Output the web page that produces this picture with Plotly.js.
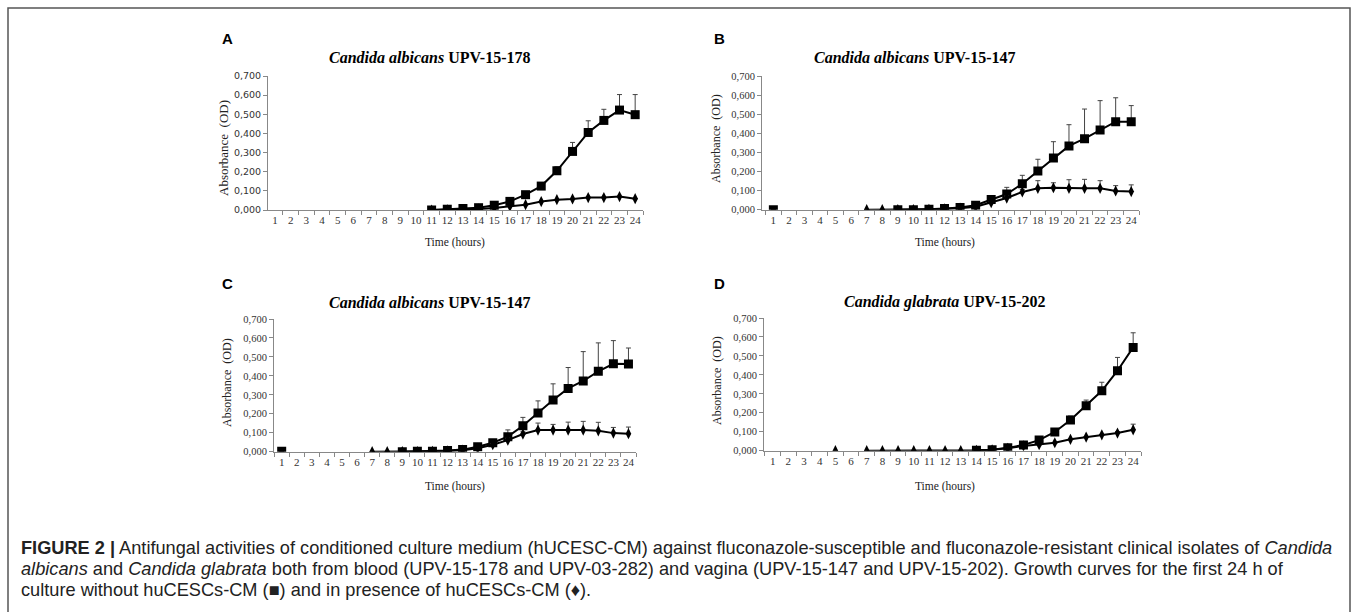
<!DOCTYPE html>
<html>
<head>
<meta charset="utf-8">
<script src="https://cdn.plot.ly/plotly-3.0.1.min.js"></script>
<style>
html,body{margin:0;padding:0;background:#fff;}
#chart{width:1358px;height:612px;}
</style>
</head>
<body>
<div id="chart"></div>
<script>
// ---- Data ----
const hours = [1,2,3,4,5,6,7,8,9,10,11,12,13,14,15,16,17,18,19,20,21,22,23,24];
const tickLabels = hours.map(String);

// Panel A: Candida albicans UPV-15-178
const A_without = [null,null,null,null,null,null,null,null,null,null,0.000,0.004,0.008,0.012,0.025,0.045,0.080,0.125,0.205,0.306,0.405,0.468,0.522,0.498];
const A_without_err = [0,0,0,0,0,0,0,0,0,0,0,0,0,0,0,0,0.004,0.006,0.021,0.047,0.061,0.058,0.081,0.105];
const A_with = [null,null,null,null,null,null,null,null,null,null,0.000,0.001,0.002,0.005,0.011,0.019,0.028,0.044,0.054,0.058,0.065,0.065,0.070,0.059];
const A_with_err = [0,0,0,0,0,0,0,0,0,0,0,0,0,0,0,0,0,0,0,0,0,0,0,0];

// Panel B: Candida albicans UPV-15-147
const B_without = [0.000,null,null,null,null,null,null,null,0.000,0.000,0.003,0.006,0.011,0.023,0.054,0.082,0.136,0.203,0.271,0.334,0.372,0.417,0.461,0.460];
const B_without_err = [0,0,0,0,0,0,0,0,0,0,0,0,0,0,0.010,0.035,0.044,0.061,0.085,0.111,0.155,0.154,0.125,0.085];
const B_with = [null,null,null,null,null,null,0.000,0.000,0.000,0.000,0.002,0.004,0.008,0.016,0.037,0.061,0.093,0.112,0.115,0.112,0.112,0.112,0.098,0.095];
const B_with_err = [0,0,0,0,0,0,0,0,0,0,0,0,0,0,0.005,0.010,0.012,0.040,0.026,0.045,0.047,0.040,0.028,0.035];

// Panel C: Candida albicans UPV-15-147
const C_without = [0.003,null,null,null,null,null,null,null,0.000,0.002,0.003,0.006,0.011,0.026,0.047,0.079,0.137,0.204,0.273,0.334,0.373,0.424,0.464,0.462];
const C_without_err = [0,0,0,0,0,0,0,0,0,0,0,0,0,0,0.012,0.036,0.044,0.064,0.085,0.110,0.155,0.150,0.122,0.085];
const C_with = [null,null,null,null,null,null,0.000,0.000,0.000,0.000,0.002,0.004,0.008,0.018,0.037,0.061,0.093,0.114,0.114,0.114,0.114,0.110,0.098,0.095];
const C_with_err = [0,0,0,0,0,0,0,0,0,0,0,0,0,0,0.005,0.010,0.012,0.037,0.030,0.042,0.046,0.045,0.030,0.035];

// Panel D: Candida glabrata UPV-15-202
const D_without = [null,null,null,null,null,null,null,null,null,null,null,null,null,0.002,0.005,0.015,0.030,0.056,0.099,0.162,0.237,0.316,0.422,0.545];
const D_without_err = [0,0,0,0,0,0,0,0,0,0,0,0,0,0,0,0,0.003,0.004,0.008,0.021,0.030,0.045,0.070,0.077];
const D_with = [null,null,null,null,0.000,null,0.000,0.000,0.000,0.000,0.000,0.000,0.000,0.002,0.005,0.013,0.025,0.032,0.042,0.060,0.072,0.084,0.093,0.110];
const D_with_err = [0,0,0,0,0,0,0,0,0,0,0,0,0,0,0,0,0,0,0,0,0,0,0.008,0.030];

const panelTitles = [
  '<b><i>Candida albicans</i> UPV-15-178</b>',
  '<b><i>Candida albicans</i> UPV-15-147</b>',
  '<b><i>Candida albicans</i> UPV-15-147</b>',
  '<b><i>Candida glabrata</i> UPV-15-202</b>'
];
const panelLetters = ['A','B','C','D'];
const yTitle = 'Absorbance  (OD)';
const xTitle = 'Time (hours)';
const yTicks = [0,0.1,0.2,0.3,0.4,0.5,0.6,0.7];

// ---- Layout helpers (pixel -> paper) ----
const W = 1358, H = 612;
const fx = p => p / W;
const fy = p => 1 - p / H;

const panels = [
  {sq:A_without, sqe:A_without_err, di:A_with, die:A_with_err,
   x0:268, x1:643, y0:76, y1:210, r0:0.55, tickFont:{family:'DejaVu Sans', size:9.5, color:'#333'},
   title:{x:430, y:57}, letter:{x:228, y:38}, yt:{x:223, y:148, size:13}, xt:{x:455, y:243}},
  {sq:B_without, sqe:B_without_err, di:B_with, die:B_with_err,
   x0:762, x1:1139, y0:76, y1:209.7, r0:0.27, tickFont:{family:'Liberation Serif', size:10.5, color:'#333'},
   title:{x:915, y:57}, letter:{x:719, y:38}, yt:{x:716, y:139, size:12}, xt:{x:945, y:243}},
  {sq:C_without, sqe:C_without_err, di:C_with, die:C_with_err,
   x0:274, x1:636, y0:319, y1:451.7, r0:0.49, tickFont:{family:'Liberation Serif', size:10.5, color:'#333'},
   title:{x:430, y:302}, letter:{x:228, y:283}, yt:{x:227, y:382, size:12}, xt:{x:455, y:486}},
  {sq:D_without, sqe:D_without_err, di:D_with, die:D_with_err,
   x0:764, x1:1141, y0:318, y1:450.7, r0:0.445, tickFont:{family:'Liberation Serif', size:10.5, color:'#333'},
   title:{x:945, y:302}, letter:{x:719, y:283}, yt:{x:717, y:381, size:12}, xt:{x:945, y:486}}
];

const data = [];
const layout = {
  width: W, height: H,
  margin:{l:0,r:0,t:0,b:0},
  paper_bgcolor:'#fff', plot_bgcolor:'rgba(0,0,0,0)',
  showlegend:false,
  separators:',.',
  annotations:[],
  shapes:[{type:'rect', xref:'paper', yref:'paper', x0:fx(8), x1:fx(1350), y0:fy(640), y1:fy(8),
           line:{color:'#555', width:1.5}, fillcolor:'rgba(0,0,0,0)'}]
};

panels.forEach((p, i) => {
  const n = i === 0 ? '' : String(i + 1);
  const xa = 'x' + n, ya = 'y' + n;
  data.push({
    x: hours, y: p.sq, xaxis: xa, yaxis: ya, type:'scatter', mode:'lines+markers',
    name:'without huCESCs-CM', connectgaps:false,
    line:{color:'#000', width:2},
    marker:{symbol:'square', size:9, color:'#000'},
    error_y:{type:'data', array:p.sqe, arrayminus:p.sqe.map(()=>0), symmetric:false,
             color:'#444', thickness:1, width:2.5}
  });
  data.push({
    x: hours, y: p.di, xaxis: xa, yaxis: ya, type:'scatter', mode:'lines+markers',
    name:'with huCESCs-CM', connectgaps:false,
    line:{color:'#000', width:2},
    marker:{symbol:'diamond-tall', size:8, color:'#000'},
    error_y:{type:'data', array:p.die, arrayminus:p.die.map(()=>0), symmetric:false,
             color:'#444', thickness:1, width:2.5}
  });
  layout['xaxis' + n] = {
    domain:[fx(p.x0), fx(p.x1)], range:[p.r0, 24.5], anchor: ya,
    tickmode:'array', tickvals:hours, ticktext:tickLabels, ticks:'',
    tickfont:{family:'Liberation Serif', size:11, color:'#333'},
    showline:true, linecolor:'#888', linewidth:1, showgrid:false, zeroline:false,
    minor:{tickmode:'linear', tick0:0.5, dtick:1, ticks:'outside', ticklen:4, tickcolor:'#888', showgrid:false},
    fixedrange:true
  };
  layout['yaxis' + n] = {
    domain:[fy(p.y1), fy(p.y0)], range:[0, 0.7], anchor: xa,
    tickmode:'array', tickvals:yTicks, tickformat:'.3f',
    ticks:'outside', ticklen:4, tickcolor:'#888',
    tickfont:p.tickFont,
    showline:true, linecolor:'#888', linewidth:1, showgrid:false, zeroline:false,
    fixedrange:true
  };
  layout.annotations.push(
    {text:panelTitles[i], xref:'paper', yref:'paper', x:fx(p.title.x), y:fy(p.title.y),
     xanchor:'center', yanchor:'middle', showarrow:false,
     font:{family:'Liberation Serif', size:16, color:'#000'}},
    {text:'<b>' + panelLetters[i] + '</b>', xref:'paper', yref:'paper', x:fx(p.letter.x), y:fy(p.letter.y),
     xanchor:'center', yanchor:'middle', showarrow:false,
     font:{family:'Liberation Sans', size:15, color:'#000'}},
    {text:yTitle, xref:'paper', yref:'paper', x:fx(p.yt.x), y:fy(p.yt.y), textangle:-90,
     xanchor:'center', yanchor:'middle', showarrow:false,
     font:{family:'Liberation Serif', size:p.yt.size, color:'#222'}},
    {text:xTitle, xref:'paper', yref:'paper', x:fx(p.xt.x), y:fy(p.xt.y),
     xanchor:'center', yanchor:'middle', showarrow:false,
     font:{family:'Liberation Serif', size:11.5, color:'#222'}}
  );
});

// Caption
const captionLines = [
  '<b>FIGURE 2 |</b> Antifungal activities of conditioned culture medium (hUCESC-CM) against fluconazole-susceptible and fluconazole-resistant clinical isolates of <i>Candida</i>',
  '<i>albicans</i> and <i>Candida glabrata</i> both from blood (UPV-15-178 and UPV-03-282) and vagina (UPV-15-147 and UPV-15-202). Growth curves for the first 24 h of',
  'culture without huCESCs-CM (■) and in presence of huCESCs-CM (♦).'
];
const captionY = [548, 569, 590];
captionLines.forEach((t, k) => {
  layout.annotations.push({text:t, xref:'paper', yref:'paper', x:fx(19), y:fy(captionY[k]),
    xanchor:'left', yanchor:'middle', showarrow:false, align:'left',
    font:{family:'Liberation Sans', size:18.2, color:'#222'}});
});

Plotly.newPlot('chart', data, layout, {staticPlot:true, displayModeBar:false});
</script>
</body>
</html>
